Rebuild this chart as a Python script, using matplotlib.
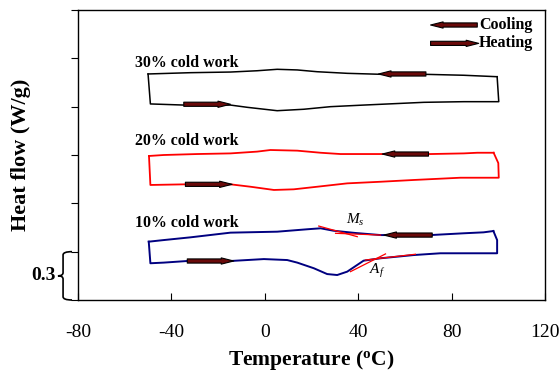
import matplotlib.pyplot as plt
from matplotlib.path import Path
from matplotlib.patches import PathPatch

plt.rcParams["font.family"] = ["Liberation Serif", "DejaVu Serif"]
plt.rcParams["mathtext.fontset"] = "custom"
plt.rcParams["mathtext.it"] = "Liberation Serif:italic"
plt.rcParams["mathtext.rm"] = "Liberation Serif"
plt.rcParams["mathtext.bf"] = "Liberation Serif:bold"
plt.rcParams["axes.unicode_minus"] = False

# 30% cold work loop (cooling top branch, going from 100 down to -50)
cw30_cool_t = [99.5, 85.2, 68.1, 49.6, 35.3, 22.4, 13.9, 5.3, -3.3, -14.7, -31.8, -50.0]
cw30_cool_q = [1.386, 1.395, 1.401, 1.401, 1.407, 1.417, 1.428, 1.432, 1.423, 1.415, 1.411, 1.403]
cw30_heat_t = [-50.0, -49.0, -34.7, -14.7, -7.5, 5.3, 16.7, 28.1, 42.4, 68.1, 85.2, 100.2, 99.5]
cw30_heat_q = [1.403, 1.217, 1.210, 1.210, 1.196, 1.175, 1.184, 1.200, 1.210, 1.227, 1.231, 1.231, 1.386]

# 20% cold work loop
cw20_cool_t = [98.0, 91.0, 85.2, 71.0, 51.0, 32.4, 23.9, 13.9, 2.4, -3.3, -14.7, -29.0, -43.3, -49.6]
cw20_cool_q = [0.914, 0.914, 0.910, 0.906, 0.906, 0.906, 0.914, 0.927, 0.931, 0.921, 0.910, 0.906, 0.900, 0.894]
cw20_heat_t = [-49.6, -49.0, -34.0, -14.7, -6.1, 3.9, 12.4, 22.4, 35.3, 49.6, 63.8, 83.8, 100.2, 100.0, 98.0]
cw20_heat_q = [0.894, 0.714, 0.718, 0.718, 0.703, 0.683, 0.687, 0.703, 0.724, 0.734, 0.745, 0.759, 0.759, 0.850, 0.914]

# 10% cold work loop
cw10_cool_t = [97.9, 93.7, 85.1, 71.0, 49.6, 38.8, 29.4, 23.9, 18.2, 5.3, -14.7, -31.8, -43.3, -49.7]
cw10_cool_q = [0.428, 0.420, 0.414, 0.403, 0.403, 0.416, 0.430, 0.445, 0.439, 0.424, 0.418, 0.389, 0.372, 0.362]
cw10_heat_t = [-49.7, -49.0, -43.3, -33.2, -14.7, -0.4, 9.6, 13.9, 21.0, 26.7, 31.0, 35.3,
               42.3, 49.6, 63.8, 75.2, 99.5, 99.5, 97.9]
cw10_heat_q = [0.362, 0.228, 0.232, 0.242, 0.242, 0.254, 0.248, 0.232, 0.197, 0.161, 0.155, 0.176,
               0.244, 0.259, 0.279, 0.290, 0.290, 0.372, 0.428]

# tangent construction lines for Ms / Af (start T, start q, end T, end q)
tangents = [
    (23.1, 0.459, 39.6, 0.393),
    (30.3, 0.414, 49.6, 0.403),
    (36.7, 0.176, 51.7, 0.286),
    (43.1, 0.248, 64.5, 0.284),
]

# direction arrows (tail T, head T, q)
arrows = [
    (69.0, 48.7, 1.403), (-34.7, -14.7, 1.215),
    (70.1, 50.3, 0.906), (-34.0, -14.0, 0.718),
    (71.7, 51.0, 0.403), (-33.2, -13.3, 0.242),
    (91.0, 71.0, 1.707), (71.0, 91.6, 1.593),
]

loop_labels = ["30% cold work", "20% cold work", "10% cold work"]
loop_label_q = [1.471, 0.987, 0.478]

fig = plt.figure(figsize=(5.6, 3.71), dpi=100)
ax = fig.add_axes([0.1393, 0.1914, 0.8339, 0.7816])

ax.plot(cw30_cool_t, cw30_cool_q, color="black", lw=1.1)
ax.plot(cw30_heat_t, cw30_heat_q, color="black", lw=1.1)
ax.plot(cw20_cool_t, cw20_cool_q, color="#ff0000", lw=1.3)
ax.plot(cw20_heat_t, cw20_heat_q, color="#ff0000", lw=1.3)
ax.plot(cw10_cool_t, cw10_cool_q, color="#000080", lw=1.4)
ax.plot(cw10_heat_t, cw10_heat_q, color="#000080", lw=1.4)

for t0, q0, t1, q1 in tangents:
    ax.plot([t0, t1], [q0, q1], color="#ff0000", lw=0.9)

for tail, head, q in arrows:
    ax.annotate("", xy=(head, q), xytext=(tail, q),
                arrowprops=dict(arrowstyle="simple,head_length=0.9,head_width=0.45,tail_width=0.3",
                                fc="#6a0a0a", ec="black", lw=0.8, shrinkA=0, shrinkB=0))

ax.text(91.8, 1.707, "Cooling", fontsize=11.5, fontweight="bold", va="center", ha="left")
ax.text(91.8, 1.593, "Heating", fontsize=11.5, fontweight="bold", va="center", ha="left")

for label, q in zip(loop_labels, loop_label_q):
    ax.text(-55.8, q, label, fontsize=11.4, fontweight="bold", va="center", ha="left")

ax.text(38.8, 0.497, r"$M_s$", fontsize=11, ha="center", va="center")
ax.text(48.3, 0.18, r"$A_f$", fontsize=11, ha="center", va="center")

ax.set_xlim(-80, 120)
ax.set_ylim(0, 1.8)
ax.set_xticks([-80, -40, 0, 40, 80, 120])
ax.set_yticks([0, 0.3, 0.6, 0.9, 1.2, 1.5, 1.8])
ax.set_yticklabels([])
ax.tick_params(axis="x", direction="in", length=5, labelsize=14, pad=17)
ax.tick_params(axis="y", direction="out", length=5)
for s in ax.spines.values():
    s.set_linewidth(1.0)

ax.set_xlabel("Temperature ($\\mathbf{^o}$C)", fontsize=15.5, fontweight="bold", labelpad=5)
ax.set_ylabel("Heat flow (W/g)", fontsize=16, fontweight="bold", labelpad=25)

# curly brace marking 0.3 W/g
tr = ax.get_yaxis_transform()
xr, xs, xt = -0.0128, -0.032, -0.043
verts = [(xr, 0.3), (xs, 0.3), (xs, 0.28), (xs, 0.17), (xs, 0.15), (xt, 0.15),
         (xs, 0.15), (xs, 0.13), (xs, 0.02), (xs, 0.0), (xr, 0.0)]
codes = [Path.MOVETO, Path.CURVE3, Path.CURVE3, Path.LINETO, Path.CURVE3, Path.CURVE3,
         Path.CURVE3, Path.CURVE3, Path.LINETO, Path.CURVE3, Path.CURVE3]
ax.add_patch(PathPatch(Path(verts, codes), transform=tr, fill=False, lw=1.2,
                       ec="black", clip_on=False))
ax.text(-0.047, 0.15, "0.3", transform=tr, fontsize=14, fontweight="bold",
        ha="right", va="center")

fig.savefig("out.png", dpi=100)
